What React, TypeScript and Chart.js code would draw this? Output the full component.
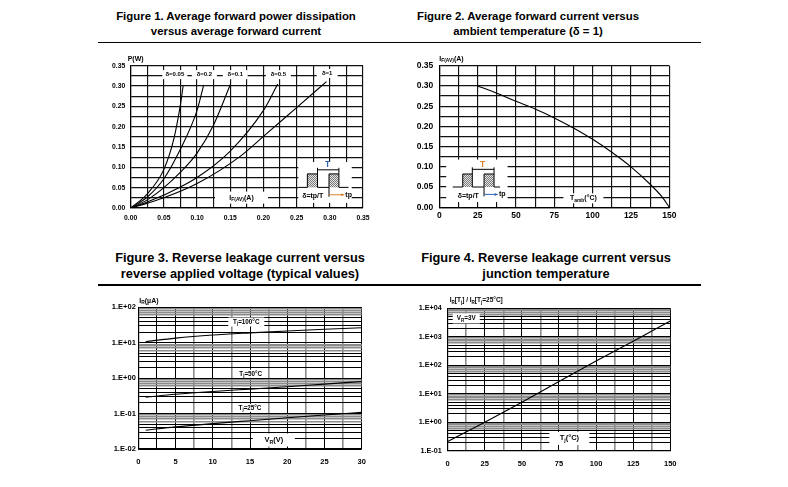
import React, { useEffect, useRef } from 'react';
import { Chart, registerables } from 'chart.js';

Chart.register(...registerables);

const FONT = '"Liberation Sans", Arial, Helvetica, sans-serif';

// ---------------- Figure 1 : P(W) vs IF(AV)(A) ----------------
const fig1DutyLabels = ['δ=0.05', 'δ=0.2', 'δ=0.1', 'δ=0.5', 'δ=1'];
const fig1If_d005 = [0, 0.025, 0.05, 0.065, 0.075, 0.079];
const fig1P_d005 = [0, 0.035, 0.095, 0.17, 0.255, 0.3];
const fig1If_d02 = [0, 0.025, 0.05, 0.075, 0.1, 0.11];
const fig1P_d02 = [0, 0.027, 0.072, 0.145, 0.24, 0.303];
const fig1If_d01 = [0, 0.025, 0.05, 0.075, 0.1, 0.125, 0.15];
const fig1P_d01 = [0, 0.02, 0.05, 0.088, 0.135, 0.205, 0.303];
const fig1If_d05 = [0, 0.025, 0.05, 0.1, 0.15, 0.2, 0.2215];
const fig1P_d05 = [0, 0.015, 0.032, 0.075, 0.14, 0.24, 0.305];
const fig1If_d1 = [0, 0.025, 0.05, 0.1, 0.165, 0.2, 0.25, 0.295];
const fig1P_d1 = [0, 0.012, 0.025, 0.06, 0.127, 0.176, 0.247, 0.311];
const fig1LabelX = [0.0665, 0.111, 0.1575, 0.2225, 0.296];
const fig1LabelY = [0.328, 0.328, 0.328, 0.328, 0.331];

// ---------------- Figure 2 : IF(AV) vs Tamb ----------------
const fig2Tamb = [25, 37.5, 50, 62.5, 75, 87.5, 100, 112.5, 125, 137.5, 145, 150];
const fig2If = [0.3, 0.282, 0.262, 0.243, 0.221, 0.196, 0.168, 0.136, 0.1, 0.057, 0.027, 0];

// ---------------- Figure 3 : IR vs VR ----------------
const fig3Vr = [1, 5, 10, 15, 20, 25, 30];
const fig3Ir_100 = [10.8, 13.5, 16.5, 19, 21.5, 24, 26.5];
const fig3Ir_50 = [0.29, 0.35, 0.42, 0.49, 0.57, 0.68, 0.8];
const fig3Ir_25 = [0.034, 0.042, 0.052, 0.063, 0.076, 0.091, 0.108];

// ---------------- Figure 4 : IR[Tj]/IR[25°C] vs Tj ----------------
const fig4Tj = [0, 25, 50, 75, 100, 125, 150];
const fig4Ratio = [0.21, 1.0, 5.0, 27, 140, 700, 3600];

// ---------------- helpers ----------------
type Part = { t: string; sub: boolean };
function parseRich(s: string): Part[] {
  const parts: Part[] = [];
  const re = /_\{([^}]*)\}/g;
  let last = 0;
  let m: RegExpExecArray | null;
  while ((m = re.exec(s))) {
    if (m.index > last) parts.push({ t: s.slice(last, m.index), sub: false });
    parts.push({ t: m[1], sub: true });
    last = re.lastIndex;
  }
  if (last < s.length) parts.push({ t: s.slice(last), sub: false });
  return parts;
}

function drawRich(ctx: CanvasRenderingContext2D, s: string, x: number, y: number, size: number, align: 'left' | 'center', color = '#000') {
  const parts = parseRich(s);
  const sub = size * 0.7;
  let w = 0;
  for (const p of parts) {
    ctx.font = `bold ${p.sub ? sub : size}px ${FONT}`;
    w += ctx.measureText(p.t).width;
  }
  let cx = align === 'center' ? x - w / 2 : x;
  ctx.textBaseline = 'middle';
  ctx.textAlign = 'left';
  ctx.fillStyle = color;
  for (const p of parts) {
    ctx.font = `bold ${p.sub ? sub : size}px ${FONT}`;
    ctx.fillText(p.t, cx, p.sub ? y + size * 0.3 : y);
    cx += ctx.measureText(p.t).width;
  }
  return w;
}

function linTicks(min: number, max: number, step: number) {
  const a: number[] = [];
  for (let i = 0; min + i * step <= max + 1e-9; i++) a.push(+(min + i * step).toFixed(6));
  return a;
}
function logTicks(minExp: number, maxExp: number) {
  const a: number[] = [];
  for (let e = minExp; e < maxExp; e++) for (let s = 1; s < 10; s++) a.push(+(s * Math.pow(10, e)).toPrecision(6));
  a.push(Math.pow(10, maxExp));
  return a;
}
function isMult(v: number, step: number) {
  const r = v / step;
  return Math.abs(r - Math.round(r)) < 1e-6;
}
function sci(v: number) {
  const e = Math.round(Math.log10(v));
  return `1.E${e >= 0 ? '+' : '-'}${String(Math.abs(e)).padStart(2, '0')}`;
}
function isDecade(v: number) {
  const l = Math.log10(v);
  return Math.abs(l - Math.round(l)) < 1e-6;
}
function significand(v: number) {
  return v / Math.pow(10, Math.floor(Math.log10(v) + 1e-9));
}

type AxisOpt = {
  type: 'linear' | 'logarithmic';
  min: number;
  max: number;
  ticks: number[];
  label: (v: number) => string;
  color: (v: number) => string;
  width: (v: number) => number;
  fontSize: number;
  padding: number;
  size: number;
  isX: boolean;
};
function axis(o: AxisOpt): any {
  return {
    type: o.type,
    min: o.min,
    max: o.max,
    afterBuildTicks: (s: any) => {
      s.ticks = o.ticks.map((v) => ({ value: v }));
    },
    afterFit: (s: any) => {
      if (o.isX) s.height = o.size;
      else s.width = o.size;
    },
    ticks: {
      autoSkip: false,
      maxRotation: 0,
      minRotation: 0,
      padding: o.padding,
      color: '#000',
      font: { size: o.fontSize, weight: 'bold', family: FONT },
      callback: (v: any) => o.label(Number(v)),
    },
    grid: {
      color: (c: any) => o.color(c.tick ? c.tick.value : 0),
      lineWidth: (c: any) => o.width(c.tick ? c.tick.value : 0),
      drawTicks: false,
    },
    border: { display: true, color: '#000', width: 1.2 },
  };
}

type Box = { text: string; x: number; y: number; w: number; h: number; size: number };
type Inset = {
  x0: number; x1: number; y0: number; y1: number;
  base: number; top: number; bx0: number; bx1: number;
  p1a: number; p1b: number; p2a: number; p2b: number;
  tLine: number; tTextX: number; tTextY: number; tColor: string;
  dTextX: number; dTextY: number; tpY: number; tpEnd: number; tpText: number; tpColor: string;
};

let patternCache: CanvasPattern | null = null;
function dotPattern(ctx: CanvasRenderingContext2D) {
  if (patternCache) return patternCache;
  const c = document.createElement('canvas');
  c.width = 2;
  c.height = 2;
  const g = c.getContext('2d')!;
  g.fillStyle = '#e4e4e4';
  g.fillRect(0, 0, 2, 2);
  g.fillStyle = '#7a7a7a';
  g.fillRect(0, 0, 1, 1);
  g.fillRect(1, 1, 1, 1);
  patternCache = ctx.createPattern(c, 'repeat');
  return patternCache!;
}

function drawInset(ctx: CanvasRenderingContext2D, chart: any, s: Inset) {
  const xs = chart.scales.x;
  const ys = chart.scales.y;
  const L = xs.getPixelForValue(s.x0);
  const R = xs.getPixelForValue(s.x1);
  const T = ys.getPixelForValue(s.y1);
  const B = ys.getPixelForValue(s.y0);
  const W = R - L;
  const H = B - T;
  const X = (f: number) => L + f * W;
  const Y = (f: number) => T + f * H;
  ctx.fillStyle = '#fff';
  ctx.fillRect(L, T, W, H);
  ctx.fillStyle = dotPattern(ctx);
  ctx.fillRect(X(s.p1a), Y(s.top), X(s.p1b) - X(s.p1a), Y(s.base) - Y(s.top));
  ctx.fillRect(X(s.p2a), Y(s.top), X(s.p2b) - X(s.p2a), Y(s.base) - Y(s.top));
  ctx.strokeStyle = '#000';
  ctx.lineWidth = 1;
  ctx.beginPath();
  ctx.moveTo(X(s.bx0), Y(s.base));
  ctx.lineTo(X(s.p1a), Y(s.base));
  ctx.lineTo(X(s.p1a), Y(s.top));
  ctx.lineTo(X(s.p1b), Y(s.top));
  ctx.lineTo(X(s.p1b), Y(s.base));
  ctx.lineTo(X(s.p2a), Y(s.base));
  ctx.lineTo(X(s.p2a), Y(s.top));
  ctx.lineTo(X(s.p2b), Y(s.top));
  ctx.lineTo(X(s.p2b), Y(s.base));
  ctx.lineTo(X(s.bx1), Y(s.base));
  ctx.moveTo(X(s.p1b), Y(s.top));
  ctx.lineTo(X(s.p1b), Y(s.tLine) - 2);
  ctx.moveTo(X(s.p2b), Y(s.top));
  ctx.lineTo(X(s.p2b), Y(s.tLine) - 2);
  ctx.moveTo(X(s.p1b), Y(s.tLine));
  ctx.lineTo(X(s.p2b), Y(s.tLine));
  ctx.moveTo(X(s.p2a), Y(s.base));
  ctx.lineTo(X(s.p2a), Y(s.tpY) + 2);
  ctx.stroke();
  ctx.strokeStyle = s.tpColor;
  ctx.beginPath();
  ctx.moveTo(X(s.p2a), Y(s.tpY));
  ctx.lineTo(X(s.tpEnd), Y(s.tpY));
  ctx.stroke();
  ctx.fillStyle = s.tpColor;
  ctx.beginPath();
  ctx.moveTo(X(s.tpEnd), Y(s.tpY));
  ctx.lineTo(X(s.tpEnd) - 3, Y(s.tpY) - 1.5);
  ctx.lineTo(X(s.tpEnd) - 3, Y(s.tpY) + 1.5);
  ctx.closePath();
  ctx.fill();
  drawRich(ctx, 'T', X(s.tTextX), Y(s.tTextY), 8.5, 'center', s.tColor);
  drawRich(ctx, 'δ=tp/T', X(s.dTextX), Y(s.dTextY), 7, 'center', '#000');
  drawRich(ctx, 'tp', X(s.tpText), Y(s.tpY), 7, 'left', '#000');
}

type AnnotOpt = { boxes: Box[]; yTitle: string; yTitleSize: number; yTitleDx: number; yTitleDy: number; inset?: Inset };
function annotPlugin(o: AnnotOpt): any {
  return {
    id: 'annot',
    beforeDatasetsDraw(chart: any) {
      const ctx: CanvasRenderingContext2D = chart.ctx;
      const xs = chart.scales.x;
      const ys = chart.scales.y;
      ctx.save();
      for (const b of o.boxes) {
        const px = xs.getPixelForValue(b.x);
        const py = ys.getPixelForValue(b.y);
        ctx.fillStyle = '#fff';
        ctx.fillRect(px - b.w / 2, py - b.h / 2, b.w, b.h);
        drawRich(ctx, b.text, px, py, b.size, 'center');
      }
      if (o.inset) drawInset(ctx, chart, o.inset);
      ctx.restore();
    },
    afterDraw(chart: any) {
      const ctx: CanvasRenderingContext2D = chart.ctx;
      const a = chart.chartArea;
      ctx.save();
      drawRich(ctx, o.yTitle, a.left + o.yTitleDx, a.top + o.yTitleDy, o.yTitleSize, 'left');
      ctx.restore();
    },
  };
}

function lineDs(xs: number[], ys: number[], smooth: boolean) {
  return {
    data: xs.map((x, i) => ({ x, y: ys[i] })),
    borderColor: '#000',
    borderWidth: 1.1,
    pointRadius: 0,
    fill: false,
    cubicInterpolationMode: smooth ? 'monotone' : 'default',
    tension: 0,
  };
}

function baseOptions(pad: { top: number; right: number }, x: any, y: any): any {
  return {
    animation: false,
    responsive: false,
    devicePixelRatio: 1,
    events: [],
    layout: { padding: { top: pad.top, right: pad.right, left: 0, bottom: 0 } },
    plugins: { legend: { display: false }, tooltip: { enabled: false } },
    scales: { x, y },
  };
}

const BLACK = '#000';
const GRAY = '#8c8c8c';
const linColor = () => '#111';
const linWidth = () => 1.15;
const logColor = (v: number) => (significand(v) > 5.5 ? GRAY : BLACK);
const logWidth = (v: number) => (significand(v) > 5.5 ? 1.6 : 1);

// ---------------- chart configs ----------------
function fig1Config(): any {
  const boxes: Box[] = fig1DutyLabels.map((t, i) => ({ text: t, x: fig1LabelX[i], y: fig1LabelY[i], w: t.length > 4 ? 25 : 21, h: 9, size: 6 }));
  boxes.push({ text: 'I_{F(AV)}(A)', x: 0.167, y: 0.0255, w: 53, h: 12, size: 7 });
  return {
    type: 'line',
    data: {
      datasets: [
        lineDs(fig1If_d005, fig1P_d005, true),
        lineDs(fig1If_d02, fig1P_d02, true),
        lineDs(fig1If_d01, fig1P_d01, true),
        lineDs(fig1If_d05, fig1P_d05, true),
        lineDs(fig1If_d1, fig1P_d1, true),
      ],
    },
    options: baseOptions(
      { top: 15.7, right: 17 },
      axis({ type: 'linear', min: 0, max: 0.35, ticks: linTicks(0, 0.35, 0.025), label: (v) => (isMult(v, 0.05) ? v.toFixed(2) : ''), color: linColor, width: linWidth, fontSize: 6.8, padding: 6, size: 22, isX: true }),
      axis({ type: 'linear', min: 0, max: 0.35, ticks: linTicks(0, 0.35, 0.025), label: (v) => (isMult(v, 0.05) ? v.toFixed(2) : ''), color: linColor, width: linWidth, fontSize: 6.8, padding: 5.5, size: 40.7, isX: false })
    ),
    plugins: [
      annotPlugin({
        boxes,
        yTitle: 'P(W)',
        yTitleSize: 7,
        yTitleDx: -3,
        yTitleDy: -7,
        inset: {
          x0: 0.2525, x1: 0.333, y0: 0.0125, y1: 0.113,
          base: 0.62, top: 0.29, bx0: 0, bx1: 0.94,
          p1a: 0.17, p1b: 0.36, p2a: 0.575, p2b: 0.76,
          tLine: 0.19, tTextX: 0.55, tTextY: 0.06, tColor: '#2f63b3',
          dTextX: 0.27, dTextY: 0.84, tpY: 0.8, tpEnd: 0.86, tpText: 0.88, tpColor: '#d9822b',
        },
      }),
    ],
  };
}

function fig2Config(): any {
  return {
    type: 'line',
    data: { datasets: [lineDs(fig2Tamb, fig2If, true)] },
    options: baseOptions(
      { top: 15.7, right: 15.7 },
      axis({ type: 'linear', min: 0, max: 150, ticks: linTicks(0, 150, 12.5), label: (v) => (isMult(v, 25) ? String(v) : ''), color: linColor, width: linWidth, fontSize: 8.5, padding: 3, size: 22.7, isX: true }),
      axis({ type: 'linear', min: 0, max: 0.35, ticks: linTicks(0, 0.35, 0.025), label: (v) => (isMult(v, 0.05) ? v.toFixed(2) : ''), color: linColor, width: linWidth, fontSize: 8.5, padding: 6, size: 44.3, isX: false })
    ),
    plugins: [
      annotPlugin({
        boxes: [{ text: 'T_{amb}(°C)', x: 94, y: 0.0222, w: 40, h: 10, size: 7 }],
        yTitle: 'I_{F(AV)}(A)',
        yTitleSize: 7,
        yTitleDx: 0,
        yTitleDy: -7,
        inset: {
          x0: 4.5, x1: 44.5, y0: 0.013, y1: 0.118,
          base: 0.646, top: 0.34, bx0: 0.106, bx1: 0.878,
          p1a: 0.27, p1b: 0.426, p2a: 0.617, p2b: 0.78,
          tLine: 0.23, tTextX: 0.595, tTextY: 0.12, tColor: '#d9822b',
          dTextX: 0.36, dTextY: 0.86, tpY: 0.82, tpEnd: 0.84, tpText: 0.86, tpColor: '#2f63b3',
        },
      }),
    ],
  };
}

function fig3Config(): any {
  return {
    type: 'line',
    data: {
      datasets: [lineDs(fig3Vr, fig3Ir_100, true), lineDs(fig3Vr, fig3Ir_50, true), lineDs(fig3Vr, fig3Ir_25, true)],
    },
    options: baseOptions(
      { top: 17.3, right: 18.3 },
      axis({ type: 'linear', min: 0, max: 30, ticks: linTicks(0, 30, 2.5), label: (v) => (isMult(v, 5) ? String(v) : ''), color: (v) => (isMult(v, 5) || Math.abs(v - 2.5) < 1e-6 ? BLACK : GRAY), width: (v) => (isMult(v, 5) || Math.abs(v - 2.5) < 1e-6 ? 1 : 1.6), fontSize: 7.5, padding: 8.5, size: 21, isX: true }),
      axis({ type: 'logarithmic', min: 0.01, max: 100, ticks: logTicks(-2, 2), label: (v) => (isDecade(v) ? sci(v) : ''), color: logColor, width: logWidth, fontSize: 7.5, padding: 2.5, size: 48.3, isX: false })
    ),
    plugins: [
      annotPlugin({
        boxes: [
          { text: 'T_{j}=100°C', x: 14.5, y: 38.5, w: 36, h: 9, size: 6.3 },
          { text: 'T_{j}=50°C', x: 15.1, y: 1.33, w: 29, h: 8, size: 6.3 },
          { text: 'T_{j}=25°C', x: 15, y: 0.145, w: 29, h: 8, size: 6.3 },
          { text: 'V_{R}(V)', x: 18.2, y: 0.018, w: 42, h: 13, size: 7.5 },
        ],
        yTitle: 'I_{R}(µA)',
        yTitleSize: 7,
        yTitleDx: 1,
        yTitleDy: -6.6,
      }),
    ],
  };
}

function fig4Config(): any {
  return {
    type: 'line',
    data: { datasets: [lineDs(fig4Tj, fig4Ratio, false)] },
    options: baseOptions(
      { top: 18.3, right: 14.3 },
      axis({ type: 'linear', min: 0, max: 150, ticks: linTicks(0, 150, 12.5), label: (v) => (isMult(v, 25) ? String(v) : ''), color: (v) => (isMult(v, 25) ? BLACK : GRAY), width: (v) => (isMult(v, 25) ? 1 : 1.6), fontSize: 7.5, padding: 8.5, size: 19.3, isX: true }),
      axis({ type: 'logarithmic', min: 0.1, max: 10000, ticks: logTicks(-1, 4), label: (v) => (isDecade(v) ? sci(v) : ''), color: logColor, width: logWidth, fontSize: 7.2, padding: 6, size: 52.7, isX: false })
    ),
    plugins: [
      annotPlugin({
        boxes: [
          { text: 'V_{R}=3V', x: 12.5, y: 4400, w: 27, h: 10, size: 6.3 },
          { text: 'T_{j}(°C)', x: 82, y: 0.27, w: 40, h: 13, size: 7.5 },
        ],
        yTitle: 'I_{R}[T_{j}] / I_{R}[T_{j}=25°C]',
        yTitleSize: 6.5,
        yTitleDx: 2,
        yTitleDy: -7.6,
      }),
    ],
  };
}

function ChartCanvas(props: { left: number; top: number; width: number; height: number; make: () => any }) {
  const ref = useRef<HTMLCanvasElement>(null);
  useEffect(() => {
    const chart = new Chart(ref.current as HTMLCanvasElement, props.make());
    return () => chart.destroy();
  }, []);
  return (
    <canvas
      ref={ref}
      width={props.width}
      height={props.height}
      style={{ position: 'absolute', left: props.left, top: props.top, width: props.width, height: props.height }}
    />
  );
}

function Title(props: { cx: number; top: number; size: number; lh: number; lines: string[] }) {
  return (
    <div
      style={{
        position: 'absolute',
        left: props.cx - 160,
        top: props.top,
        width: 320,
        textAlign: 'center',
        font: `bold ${props.size}px ${FONT}`,
        lineHeight: `${props.lh}px`,
        whiteSpace: 'nowrap',
        color: '#000',
      }}
    >
      {props.lines.map((l, i) => (
        <div key={i}>{l}</div>
      ))}
    </div>
  );
}

export default function App() {
  return (
    <div style={{ position: 'fixed', left: 0, top: 0, width: 788, height: 487, background: '#fff', overflow: 'hidden' }}>
      <Title cx={236} top={8.5} size={11.4} lh={15} lines={['Figure 1. Average forward power dissipation', 'versus average forward current']} />
      <Title cx={528} top={8.5} size={11.4} lh={15} lines={['Figure 2. Average forward current versus', 'ambient temperature (δ = 1)']} />
      <Title cx={240} top={250} size={12.8} lh={16} lines={['Figure 3. Reverse leakage current versus', 'reverse applied voltage (typical values)']} />
      <Title cx={546} top={250} size={12.8} lh={16} lines={['Figure 4. Reverse leakage current versus', 'junction temperature']} />
      <div style={{ position: 'absolute', left: 98, top: 41.5, width: 603, height: 1.5, background: '#000' }} />
      <div style={{ position: 'absolute', left: 98, top: 284, width: 603, height: 1.5, background: '#000' }} />
      <ChartCanvas left={90} top={50} width={290} height={180} make={fig1Config} />
      <ChartCanvas left={395} top={50} width={290} height={180} make={fig2Config} />
      <ChartCanvas left={90} top={290} width={290} height={180} make={fig3Config} />
      <ChartCanvas left={395} top={290} width={290} height={180} make={fig4Config} />
    </div>
  );
}
